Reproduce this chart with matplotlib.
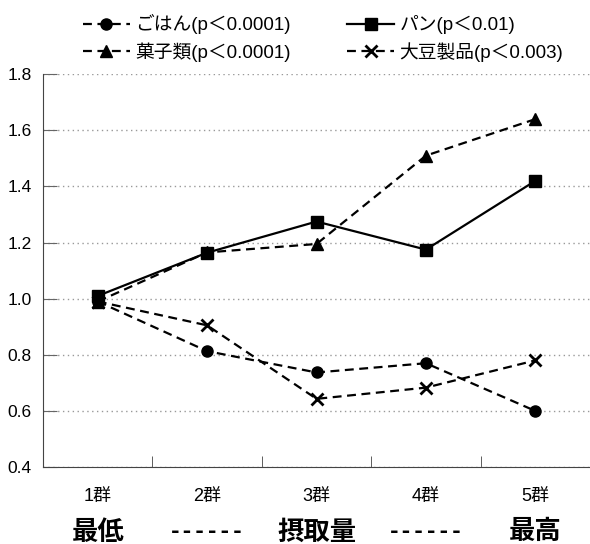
import numpy as np
import matplotlib
matplotlib.use("Agg")
import matplotlib.pyplot as plt

plt.rcParams['font.family'] = ['Liberation Sans', 'Noto Sans CJK JP', 'DejaVu Sans']

# data
groups = ['1群', '2群', '3群', '4群', '5群']
rice = [0.99, 0.813, 0.737, 0.77, 0.60]
bread = [1.01, 1.164, 1.275, 1.175, 1.42]
sweets = [0.99, 1.165, 1.195, 1.51, 1.64]
soy = [0.99, 0.905, 0.643, 0.683, 0.78]
bottom_labels = ['最低', '------', '摂取量', '------', '最高']
yticks = [0.4, 0.6, 0.8, 1.0, 1.2, 1.4, 1.6, 1.8]

fig = plt.figure(figsize=(5.9, 5.44), dpi=100)
ax = fig.add_axes([0.073, 0.1415, 0.927, 0.722])

x = np.arange(len(groups))
dash = (0, (4, 2.5))
h1, = ax.plot(x, rice, color='black', lw=1.6, ls=dash, marker='o', ms=8,
              label='ごはん(p＜0.0001)')
h2, = ax.plot(x, sweets, color='black', lw=1.6, ls=dash, marker='^', ms=8,
              label='菓子類(p＜0.0001)')
h3, = ax.plot(x, bread, color='black', lw=1.6, ls='-', marker='s', ms=8,
              label='パン(p＜0.01)')
h4, = ax.plot(x, soy, color='black', lw=1.6, ls=dash, marker='x', ms=9, mew=2,
              label='大豆製品(p＜0.003)')

ax.set_xlim(-0.5, 4.5)
ax.set_ylim(0.4, 1.8)
ax.set_yticks(yticks)
ax.set_yticklabels([f'{v:.1f}' for v in yticks], fontsize=12.5)
ax.set_xticks(x)
ax.set_xticklabels(groups, fontsize=13)
ax.set_xticks(x[:-1] + 0.5, minor=True)
ax.tick_params(axis='x', which='major', length=0, pad=15)
ax.tick_params(axis='x', which='minor', direction='in', length=8, color='#444444')
ax.tick_params(axis='y', direction='in', length=10, color='#666666', pad=8)
ax.yaxis.grid(True, ls=(0, (1, 2.5)), color='#999999', lw=1)
ax.set_axisbelow(True)
for s in ['top', 'right']:
    ax.spines[s].set_visible(False)
ax.spines['left'].set_color('#444444')
ax.spines['bottom'].set_color('#444444')

for xi, lab in zip(x, bottom_labels):
    if lab.startswith('-'):
        ax.text(xi, -0.166, lab, transform=ax.get_xaxis_transform(), ha='center',
                va='center', fontsize=15, fontweight='bold', family='DejaVu Sans Mono')
    else:
        ax.text(xi, -0.166, lab, transform=ax.get_xaxis_transform(), ha='center',
                va='center', fontsize=19, fontweight='bold')

fig.legend(handles=[h1, h2, h3, h4], ncol=2, frameon=False, fontsize=13.5,
           loc='upper left', bbox_to_anchor=(0.112, 1.005), handlelength=2.5,
           handletextpad=0.3, columnspacing=3.0, labelspacing=0.42)

fig.savefig('out.png', dpi=100)
